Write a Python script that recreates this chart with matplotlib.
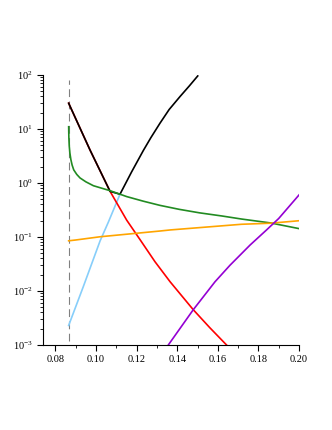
import numpy as np
import matplotlib
matplotlib.use('Agg')
from matplotlib import pyplot as plt
from matplotlib.ticker import LogLocator, MultipleLocator, FixedLocator, NullFormatter

plt.rcParams['font.family'] = ['Liberation Serif', 'DejaVu Serif']
plt.rcParams['mathtext.fontset'] = 'stix'

# data
x_cut = 0.0865

x_red = [0.0865, 0.0970, 0.1069, 0.1151, 0.1217, 0.1290, 0.1365, 0.1479, 0.1560, 0.1643]
y_red = [30, 4.1, 0.70, 0.205, 0.089, 0.035, 0.0148, 0.0045, 0.0021, 0.001]

x_blue = [0.0865, 0.0937, 0.1020, 0.1061, 0.1118]
y_blue = [0.0023, 0.012, 0.085, 0.19, 0.62]

x_black = [0.0865, 0.0970, 0.1069, 0.1118, 0.1175, 0.1233, 0.1270, 0.1315,
           0.1360, 0.1414, 0.1460, 0.1501]
y_black = [30, 4.1, 0.70, 0.62, 1.6, 4.0, 6.9, 12.8, 22.9, 40, 63, 96]

x_green = [0.0865, 0.0866, 0.0868, 0.0871, 0.0876, 0.0882, 0.0890, 0.0905, 0.0921, 0.0950,
           0.0987, 0.1069, 0.1151, 0.1233, 0.1315, 0.1410, 0.1510, 0.1620,
           0.1717, 0.1860, 0.2000]
y_green = [11.0, 7.0, 4.8, 3.6, 2.7, 2.15, 1.75, 1.44, 1.24, 1.05,
           0.89, 0.72, 0.56, 0.46, 0.385, 0.325, 0.28, 0.245,
           0.215, 0.182, 0.143]

x_orange = [0.0865, 0.0900, 0.1020, 0.1315, 0.1365, 0.1717, 0.1860, 0.2000]
y_orange = [0.085, 0.088, 0.101, 0.129, 0.135, 0.172, 0.18, 0.20]

x_purple = [0.1356, 0.1479, 0.1586, 0.1660, 0.1759, 0.1840, 0.1900, 0.2000]
y_purple = [0.001, 0.0045, 0.0148, 0.030, 0.071, 0.135, 0.22, 0.60]

fig = plt.figure(figsize=(3.32, 4.30), dpi=100)
ax = fig.add_axes([0.1304, 0.1977, 0.7702, 0.6279])

lw = 1.2
ax.plot([x_cut, x_cut], [1.2e-3, 80], color='gray', lw=0.8, dashes=(7, 4))
ax.plot(x_blue, y_blue, color='#87CEFA', lw=lw)
ax.plot(x_red, y_red, color='red', lw=lw)
ax.plot(x_black, y_black, color='black', lw=lw)
ax.plot(x_green, y_green, color='#228B22', lw=lw)
ax.plot(x_orange, y_orange, color='#FFA500', lw=lw)
ax.plot(x_purple, y_purple, color='#9400D3', lw=lw)

ax.set_yscale('log')
ax.set_xlim(0.074, 0.20)
ax.set_ylim(1e-3, 1e2)

ax.spines['top'].set_visible(False)
ax.spines['right'].set_visible(False)

ax.xaxis.set_major_locator(FixedLocator([0.08, 0.10, 0.12, 0.14, 0.16, 0.18, 0.20]))
ax.xaxis.set_major_formatter(matplotlib.ticker.FormatStrFormatter('%.2f'))
ax.xaxis.set_minor_locator(MultipleLocator(0.01))
ax.yaxis.set_major_locator(LogLocator(base=10, numticks=10))
ax.yaxis.set_minor_locator(LogLocator(base=10, subs=np.arange(2, 10), numticks=20))
ax.yaxis.set_minor_formatter(NullFormatter())

ax.tick_params(axis='both', which='major', labelsize=7.5, direction='out', length=4, width=0.8)
ax.tick_params(axis='both', which='minor', direction='out', length=2, width=0.6)

plt.savefig('out.png', dpi=100)
